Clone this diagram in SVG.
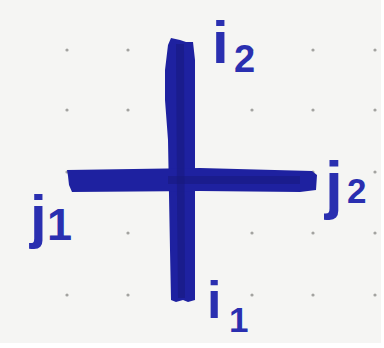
<svg xmlns="http://www.w3.org/2000/svg" width="384" height="348" viewBox="0 0 384 348">
<style>
.dot{fill:#a3a3a0}
.ink{fill:#1e21a0}
.ink2{fill:#15177a;opacity:0.5}
.lbl{font-family:"Liberation Sans","DejaVu Sans",sans-serif;font-weight:bold;fill:#2a2fb0}
</style>
<rect width="384" height="348" fill="#ffffff"/>
<rect x="0" y="0" width="381" height="343" fill="#f5f5f3"/>
<g id="grid">
<circle class="dot" cx="67" cy="50" r="1.6"/><circle class="dot" cx="128" cy="50" r="1.6"/><circle class="dot" cx="252" cy="50" r="1.6"/><circle class="dot" cx="313" cy="50" r="1.6"/><circle class="dot" cx="375" cy="50" r="1.6"/>
<circle class="dot" cx="67" cy="110" r="1.6"/><circle class="dot" cx="128" cy="110" r="1.6"/><circle class="dot" cx="252" cy="110" r="1.6"/><circle class="dot" cx="313" cy="110" r="1.6"/><circle class="dot" cx="375" cy="110" r="1.6"/>
<circle class="dot" cx="67" cy="172" r="1.6"/><circle class="dot" cx="313" cy="172" r="1.6"/><circle class="dot" cx="375" cy="172" r="1.6"/>
<circle class="dot" cx="128" cy="233" r="1.6"/><circle class="dot" cx="252" cy="233" r="1.6"/><circle class="dot" cx="313" cy="233" r="1.6"/><circle class="dot" cx="375" cy="233" r="1.6"/>
<circle class="dot" cx="67" cy="295" r="1.6"/><circle class="dot" cx="128" cy="295" r="1.6"/><circle class="dot" cx="252" cy="295" r="1.6"/><circle class="dot" cx="313" cy="295" r="1.6"/><circle class="dot" cx="375" cy="295" r="1.6"/>
</g>
<g id="connectors">
<path class="ink" d="M171,38 L180,40 L186,42 L193,42 L195,60 L195,300 L188,302 L183,300 L176,302 L171,300 L170,250 L168,140 L165,100 L165,70 L168,45 Z"/>
<path class="ink" d="M67,170 L200,168 L312,171 L317,175 L316,190 L300,192 L200,191 L72,192 L69,185 L68,176 Z"/>
<path class="ink2" d="M176,44 L184,44 L185,298 L178,298 L177,200 Z"/>
<path class="ink2" d="M168,176 L300,176 L300,184 L168,184 Z"/>
</g>
<g id="label-i2"><text class="lbl" x="212" y="63" font-size="60">i</text><text class="lbl" x="234" y="72" font-size="38">2</text></g>
<g id="label-j2"><text class="lbl" x="325" y="207" font-size="64">j</text><text class="lbl" x="347" y="203" font-size="35">2</text></g>
<g id="label-j1"><text class="lbl" x="30" y="237" font-size="60">j</text><text class="lbl" x="47" y="240" font-size="45">1</text></g>
<g id="label-i1"><text class="lbl" x="207" y="318" font-size="52">i</text><text class="lbl" x="229" y="332" font-size="35">1</text></g>
</svg>
